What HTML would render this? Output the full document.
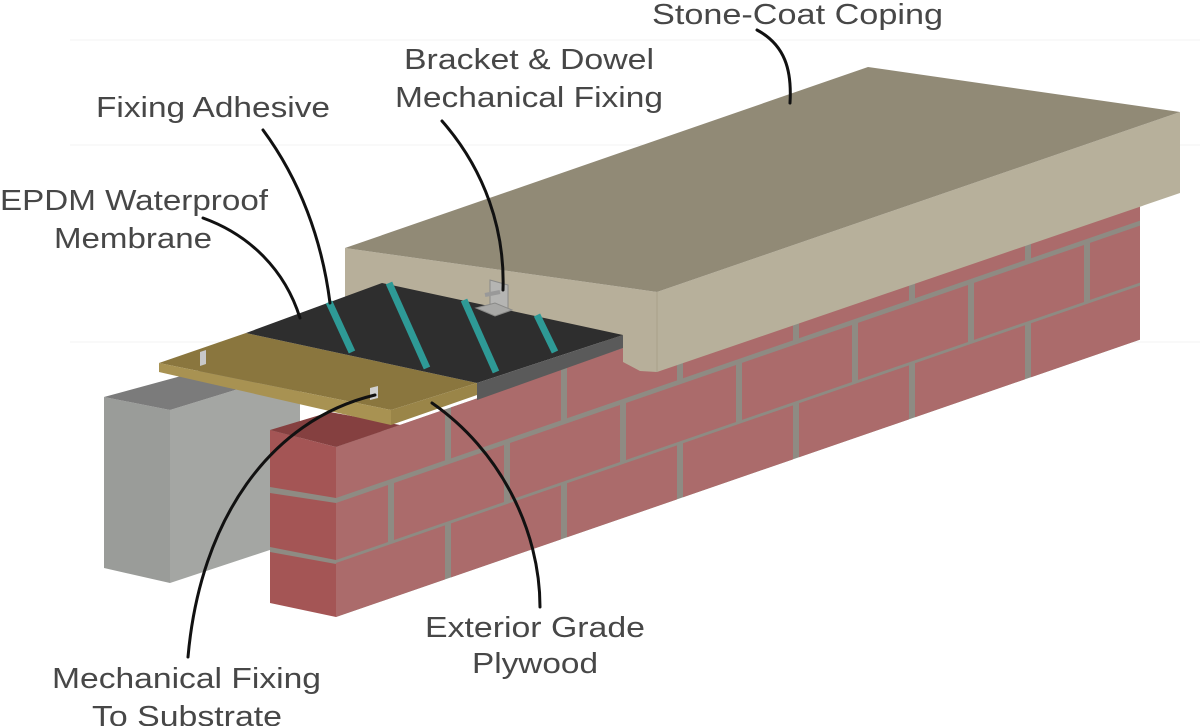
<!DOCTYPE html>
<html><head><meta charset="utf-8"><style>
html,body{margin:0;padding:0;background:#fff;}
svg{display:block;}
text{font-family:"Liberation Sans",sans-serif;font-size:29px;fill:#474747;}
</style></head><body>
<svg width="1200" height="726" viewBox="0 0 1200 726" xmlns="http://www.w3.org/2000/svg">
<g stroke="#f3f3f3" stroke-width="1">
<line x1="70" y1="40" x2="1200" y2="40"/><line x1="70" y1="145" x2="1200" y2="145"/><line x1="70" y1="342" x2="1200" y2="342"/>
</g>
<!-- concrete block -->
<polygon points="104,397 170,410 170,583 104,568" fill="#9a9c99"/>
<polygon points="170,410 300,370 300,540 170,583" fill="#a4a6a3"/>
<polygon points="104,397 170,410 300,370 240,360" fill="#7b7b7b"/>
<!-- brick front face -->
<g transform="matrix(1,-0.345,0,1,336,447)">
<rect x="0" y="0" width="804" height="170" fill="#8e8b83"/>
<g fill="#ab6b6b">
<rect x="0" y="0" width="109" height="51"/>
<rect x="115" y="0" width="110" height="51"/><rect x="231" y="0" width="110" height="51"/><rect x="347" y="0" width="110" height="51"/><rect x="463" y="0" width="110" height="51"/><rect x="579" y="0" width="110" height="51"/><rect x="695" y="0" width="109" height="51"/>
<rect x="0" y="56" width="52" height="57"/>
<rect x="58" y="56" width="110" height="57"/><rect x="174" y="56" width="110" height="57"/><rect x="290" y="56" width="110" height="57"/><rect x="406" y="56" width="110" height="57"/><rect x="522" y="56" width="110" height="57"/><rect x="638" y="56" width="110" height="57"/><rect x="754" y="56" width="50" height="57"/>
<rect x="0" y="116" width="109" height="54"/>
<rect x="115" y="116" width="110" height="54"/><rect x="231" y="116" width="110" height="54"/><rect x="347" y="116" width="110" height="54"/><rect x="463" y="116" width="110" height="54"/><rect x="579" y="116" width="110" height="54"/><rect x="695" y="116" width="109" height="54"/>
</g>
</g>
<!-- brick end face -->
<polygon points="270,430 336,447 336,617 270,603" fill="#a45555"/>
<polygon points="270,487 336,498 336,503 270,493" fill="#8e8b83"/>
<polygon points="270,547 336,560 336,564 270,552" fill="#8e8b83"/>
<polygon points="270,430 336,447 400,425 330,412" fill="#854040"/>
<!-- coping -->
<polygon points="345,248 657,292 657,372 640,371 623,362 623,345 345,298" fill="#b7af9a"/>
<polygon points="657,292 1180,112 1180,193 657,372" fill="#b7b09b"/>
<polygon points="345,248 868,67 1180,112 657,292" fill="#918a76"/>
<line x1="657" y1="292" x2="657" y2="372" stroke="#a8a08a" stroke-width="1"/>
<!-- plywood -->
<polygon points="159,363 246,333 477,383 391,410" fill="#8a763e"/>
<polygon points="159,363 391,410 391,425 159,372" fill="#a89252"/>
<polygon points="391,410 477,383 477,395 391,425" fill="#9a8548"/>
<polygon points="200,352 206,350 206,364 200,366" fill="#c8c8c8"/>
<polygon points="370,388 378,386 378,398 370,400" fill="#d0d0d0"/>
<!-- membrane -->
<polygon points="246,333 382,283 623,335 477,383" fill="#2e2e2e"/>
<polygon points="477,383 623,335 623,348 477,400" fill="#5a5a5a"/>
<!-- strips -->
<g stroke="#2e9a96" stroke-width="7" stroke-linecap="butt">
<line x1="329" y1="302" x2="352" y2="352"/>
<line x1="389" y1="283" x2="427" y2="368"/>
<line x1="464" y1="300" x2="496" y2="372"/>
<line x1="537" y1="315" x2="555" y2="352"/>
</g>
<!-- bracket -->
<polygon points="490,280 508,285 508,310 490,305" fill="#b5b5b3" stroke="#8a8a88" stroke-width="1"/>
<polygon points="476,308 495,303 512,310 495,316" fill="#a8a8a6" stroke="#8a8a88" stroke-width="1"/>
<line x1="485" y1="295" x2="500" y2="292" stroke="#999" stroke-width="4"/>
<!-- leaders -->
<g fill="none" stroke="#111" stroke-width="3" stroke-linecap="round">
<path d="M757,30 C785,45 792,70 790,103"/>
<path d="M442,121 C485,170 505,230 503,290"/>
<path d="M263,130 C300,180 322,240 330,303"/>
<path d="M203,218 C250,235 285,270 300,318"/>
<path d="M432,403 C500,450 540,530 540,607"/>
<path d="M375,395 C270,420 200,520 188,657"/>
</g>
<!-- labels -->
<text x="652" y="24" textLength="291" lengthAdjust="spacingAndGlyphs">Stone-Coat Coping</text>
<text x="404" y="69" textLength="250" lengthAdjust="spacingAndGlyphs">Bracket &amp; Dowel</text>
<text x="395" y="107" textLength="268" lengthAdjust="spacingAndGlyphs">Mechanical Fixing</text>
<text x="96" y="117" textLength="234" lengthAdjust="spacingAndGlyphs">Fixing Adhesive</text>
<text x="0" y="210" textLength="268" lengthAdjust="spacingAndGlyphs">EPDM Waterproof</text>
<text x="54" y="248" textLength="158" lengthAdjust="spacingAndGlyphs">Membrane</text>
<text x="425" y="637" textLength="220" lengthAdjust="spacingAndGlyphs">Exterior Grade</text>
<text x="472" y="673" textLength="126" lengthAdjust="spacingAndGlyphs">Plywood</text>
<text x="52" y="688" textLength="269" lengthAdjust="spacingAndGlyphs">Mechanical Fixing</text>
<text x="92" y="726" textLength="190" lengthAdjust="spacingAndGlyphs">To Substrate</text>
</svg>
</body></html>
